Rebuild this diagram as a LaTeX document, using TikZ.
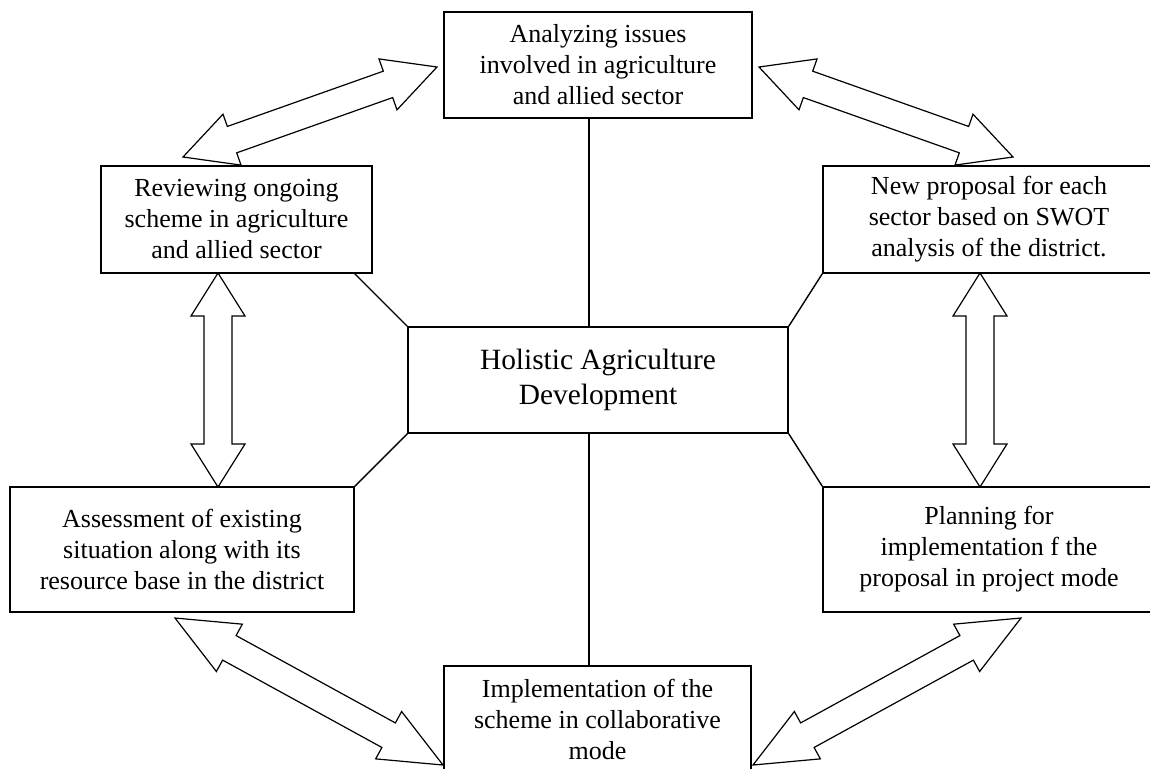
\documentclass[tikz,border=0pt]{standalone}
\usepackage{fontspec}
\setmainfont{Liberation Serif}
\usetikzlibrary{calc}

% hollow arrow with a head at both ends: #1, #2 tips, #3 head length
\newcommand\twoway[3]{%
  \coordinate (head-a) at ($(#1)!#3!(#2)$);
  \coordinate (head-b) at ($(#2)!#3!(#1)$);
  \draw[blockarrow] (#1)
    -- ($(head-a)!13.5pt!90:(#2)$) -- ($(head-a)!7pt!90:(#2)$)
    -- ($(head-b)!7pt!-90:(#1)$) -- ($(head-b)!13.5pt!-90:(#1)$)
    -- (#2)
    -- ($(head-b)!13.5pt!90:(#1)$) -- ($(head-b)!7pt!90:(#1)$)
    -- ($(head-a)!7pt!-90:(#2)$) -- ($(head-a)!13.5pt!-90:(#2)$)
    -- cycle;
}

\begin{document}
\begin{tikzpicture}[x=0.5pt,y=-0.5pt,
    blockarrow/.style={draw,line width=0.6pt,fill=white,line join=miter},
  ]
  \useasboundingbox (0,0) rectangle (1150,768);
  \begin{scope}[
    every node/.style={
      draw,
      line width=0.7pt,
      align=center,
      inner sep=0pt,
      font=\fontsize{13}{15.5}\selectfont,
    },
    ]
    \node[minimum width=154pt,minimum height=53pt]   (analyze)   at (598,65)
      {Analyzing issues\\involved in agriculture\\and allied sector};
    \node[minimum width=135.5pt,minimum height=53.5pt] (review)  at (236.5,219.5)
      {Reviewing ongoing\\scheme in agriculture\\and allied sector};
    \node[minimum width=166pt,minimum height=53.5pt] (proposal)  at (989,219.5)
      {New proposal for each\\sector based on SWOT\\analysis of the district.};
    \node[minimum width=190pt,minimum height=53pt,
      font=\fontsize{14.7}{17.5}\selectfont]          (holistic)  at (598,380)
      {Holistic Agriculture\\Development};
    \node[minimum width=172pt,minimum height=62.5pt] (assess)    at (182,549.5)
      {Assessment of existing\\situation along with its\\resource base in the district};
    \node[minimum width=166pt,minimum height=62.5pt] (planning)  at (989,549.5)
      {Planning for\\implementation f the\\proposal in project mode};
    \node[minimum width=153.5pt,minimum height=53pt] (implement) at (597.5,719)
      {Implementation of the\\scheme in collaborative\\mode};
  \end{scope}
  \begin{scope}[every path/.style={draw,line width=0.7pt}]
    \path ([xshift=-4.5pt]analyze.south) -- ([xshift=-4.5pt]holistic.north);
    \path ([xshift=-4.5pt]holistic.south) -- ([xshift=-4.25pt]implement.north);
    \path (holistic.north west) -- ([xshift=-9pt]review.south east);
    \path (holistic.north east) -- (proposal.south west);
    \path (holistic.south west) -- (assess.north east);
    \path (holistic.south east) -- (planning.north west);
  \end{scope}
  % arrow tips
  \coordinate (review-t)    at (183,157);
  \coordinate (analyze-l)   at (437,67);
  \coordinate (analyze-r)   at (759,67);
  \coordinate (proposal-t)  at (1013,157);
  \coordinate (review-b)    at (218,273);
  \coordinate (assess-t)    at (218,487);
  \coordinate (proposal-b)  at (980,273);
  \coordinate (planning-t)  at (980,487);
  \coordinate (assess-b)    at (175,618);
  \coordinate (implement-l) at (443,765);
  \coordinate (implement-r) at (753,765);
  \coordinate (planning-b)  at (1021,618);
  \twoway{review-t}{analyze-l}{26pt}
  \twoway{analyze-r}{proposal-t}{26pt}
  \twoway{review-b}{assess-t}{21.5pt}
  \twoway{proposal-b}{planning-t}{21.5pt}
  \twoway{assess-b}{implement-l}{31pt}
  \twoway{implement-r}{planning-b}{31pt}
\end{tikzpicture}
\end{document}
